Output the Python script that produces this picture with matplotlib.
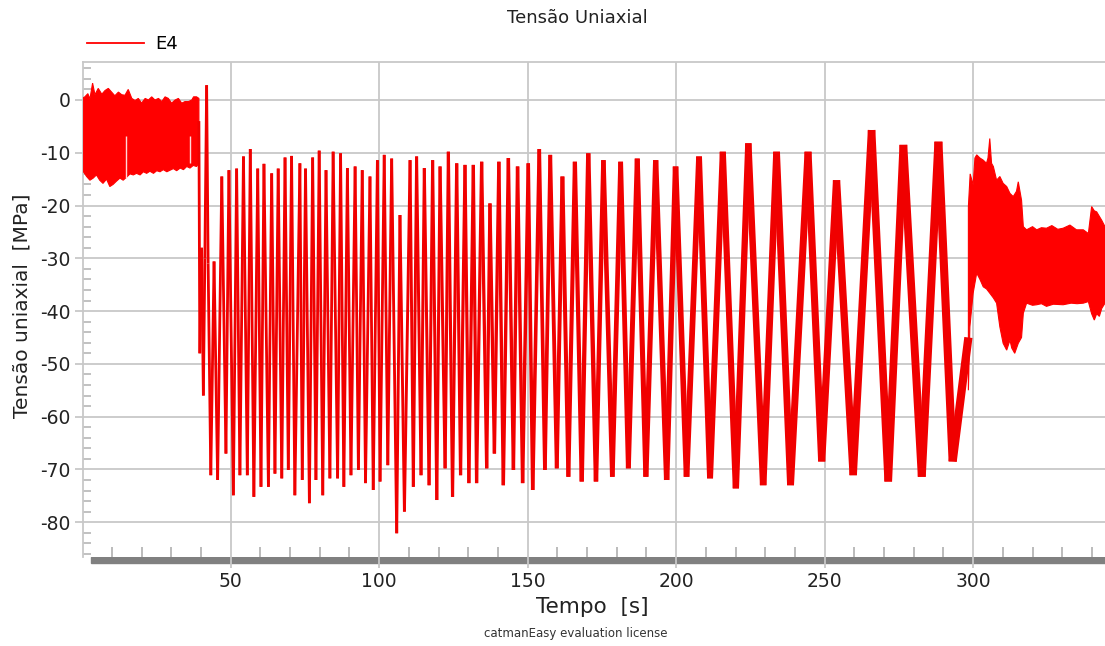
import numpy as np
import matplotlib
matplotlib.use("Agg")
import matplotlib.pyplot as plt
from matplotlib.collections import LineCollection
from matplotlib.lines import Line2D
from matplotlib.patches import Rectangle
from matplotlib.ticker import MultipleLocator

# ---- data -------------------------------------------------------------
# quiet start (noise band), upper and lower edge
band1_top_t = [0.3, 0.9, 1.9, 2.6, 3.5, 4.3, 5.4, 6.6, 7.7, 8.8, 9.9, 11.0, 12.2,
               13.3, 14.4, 15.5, 16.7, 17.8, 18.9, 20.0, 21.2, 22.3, 23.4, 24.5,
               25.7, 26.8, 27.9, 29.0, 30.1, 31.3, 32.4, 33.5, 34.6, 35.8, 36.9,
               37.5, 38.5, 39.3]
band1_top = [0.4, 0.6, 1.2, 0.2, 3.2, 1.0, 2.2, 1.1, 1.8, 2.2, 1.5, 0.8, 1.5,
             1.0, 0.9, 2.0, 0.3, -0.1, 0.3, -0.6, 0.3, 0.0, 0.6, 0.0,
             0.3, -0.3, 0.6, 0.3, -0.6, 0.0, 0.3, -0.6, -0.3, -0.3, 0.0,
             0.6, 0.6, 0.3]
band1_bot_t = [0.3, 1.5, 2.6, 3.7, 4.8, 5.9, 7.0, 8.2, 9.3, 10.4, 11.5, 12.7,
               13.8, 15.0, 16.1, 17.2, 18.3, 19.5, 20.6, 21.7, 22.8, 24.0, 25.1,
               26.2, 27.3, 28.5, 29.6, 30.7, 31.8, 33.0, 34.1, 35.2, 36.3, 37.4,
               38.5, 39.3]
band1_bot = [-13.5, -14.5, -15.2, -14.8, -14.2, -15.2, -15.8, -15.0, -16.4, -16.0,
             -15.4, -14.8, -15.2, -14.6, -14.0, -14.2, -13.9, -14.2, -13.6, -13.9,
             -13.5, -13.9, -13.4, -13.6, -13.2, -13.6, -13.3, -13.0, -13.4, -12.9,
             -13.2, -12.6, -12.9, -12.4, -12.6, -12.0]

# dropouts visible inside the first band
gap_t = [14.7, 36.3]
gap_hi = [-6.9, -6.9]
gap_lo = [-14.8, -12.0]

# oscillating part: successive peaks and troughs
osc_t = [39.3, 39.6, 40.2, 40.8, 41.3, 41.9, 42.4, 43.3, 44.4, 45.6, 47.0, 48.4,
         49.4, 50.9, 52.0, 53.1, 54.3, 55.6, 56.6, 57.8, 59.1, 60.2, 61.2, 62.7,
         63.8, 64.9, 66.0, 67.2, 68.3, 69.4, 70.5, 71.6, 73.3, 74.1, 75.2, 76.5,
         77.6, 78.7, 79.8, 81.0, 82.1, 83.4, 84.5, 86.0, 87.0, 88.1, 89.3, 90.5,
         91.9, 93.0, 94.3, 95.4, 96.9, 98.0, 99.4, 100.3, 101.7, 102.9, 104.2,
         105.9, 107.0, 108.5, 110.4, 111.5, 112.6, 114.1, 115.2, 116.8, 118.0,
         119.4, 120.5, 122.2, 123.3, 124.7, 126.1, 127.4, 128.9, 130.2, 131.7,
         132.8, 134.5, 136.2, 137.3, 138.8, 140.3, 141.8, 143.5, 145.2, 146.6,
         148.3, 150.2, 151.7, 153.9, 155.8, 157.6, 159.8, 161.7, 163.7, 165.9,
         168.2, 170.4, 173.0, 175.5, 178.5, 181.3, 183.9, 186.9, 189.8, 193.1,
         196.8, 199.8, 203.5, 207.7, 211.4, 215.7, 220.1, 224.3, 229.3, 233.8,
         238.5, 244.4, 249.0, 254.0, 259.6, 265.8, 271.4, 276.5, 282.7, 288.3,
         293.1, 298.4]
osc_v = [-4.0, -48.0, -28.0, -56.0, -30.0, 2.8, -31.0, -71.1, -30.6, -72.0, -14.5, -67.0,
         -13.3, -74.9, -13.0, -71.1, -10.7, -71.1, -9.3, -75.2, -13.0, -73.3, -12.1, -73.3,
         -13.9, -70.8, -13.0, -71.7, -10.9, -70.1, -10.6, -74.9, -12.0, -72.0, -13.0, -76.4,
         -10.9, -72.0, -9.6, -74.9, -13.3, -71.7, -9.8, -71.7, -10.1, -73.3, -12.9, -71.1,
         -12.6, -70.1, -13.3, -72.6, -14.5, -73.9, -11.4, -72.3, -10.4, -69.2, -11.1,
         -82.1, -21.8, -78.0, -11.4, -73.3, -10.7, -71.1, -12.9, -73.0, -11.4,
         -75.8, -12.6, -69.8, -9.8, -75.2, -12.0, -71.1, -12.3, -72.6, -12.3,
         -72.6, -11.7, -69.8, -19.6, -67.0, -11.7, -73.0, -11.0, -70.1, -12.6,
         -72.6, -12.0, -73.9, -9.3, -70.1, -10.4, -69.8, -14.5, -71.4, -11.7,
         -72.3, -10.1, -72.3, -11.4, -71.4, -11.7, -69.8, -11.1, -71.4, -11.4,
         -72.0, -12.6, -71.4, -10.7, -71.7, -9.8, -73.6, -8.2, -73.0, -9.8,
         -73.0, -9.8, -68.5, -15.2, -71.1, -5.7, -72.3, -8.5, -71.4, -7.9,
         -68.5, -45.0]

# settling at the end (noise band), upper and lower edge
band2_top_t = [298.4, 299.0, 300.0, 300.6, 301.2, 302.3, 303.4, 304.5, 305.0, 305.6,
               306.2, 306.8, 307.9, 309.0, 310.1, 311.3, 312.4, 313.5, 314.6, 315.2,
               316.3, 316.9, 318.0, 320.0, 321.4, 323.0, 324.7, 326.5, 328.5, 330.3,
               332.6, 334.8, 337.1, 338.8, 339.9, 340.8, 341.6, 343.3, 344.4]
band2_top = [-20.2, -14.0, -16.1, -11.0, -10.4, -11.0, -11.4, -12.0, -11.0, -7.3,
             -12.0, -12.6, -15.2, -14.5, -15.8, -16.4, -17.7, -18.3, -17.3, -15.5,
             -19.0, -24.0, -24.6, -24.0, -24.6, -24.2, -24.3, -23.8, -24.5, -24.3,
             -23.7, -24.6, -24.6, -25.3, -20.2, -21.0, -21.2, -22.8, -24.0]
band2_bot_t = [298.4, 298.9, 300.0, 301.2, 302.3, 303.4, 304.5, 305.6, 306.8, 307.9,
               309.0, 310.1, 311.3, 312.4, 313.0, 314.0, 315.2, 316.3, 316.9, 318.0,
               320.0, 321.4, 323.0, 324.7, 327.0, 330.3, 333.0, 335.0, 337.1, 338.8,
               339.9, 340.8, 341.6, 342.5, 343.3, 344.4]
band2_bot = [-55.0, -43.0, -36.6, -32.8, -34.0, -35.4, -35.8, -36.6, -37.5, -38.5,
             -43.0, -46.1, -47.4, -45.5, -47.0, -48.0, -46.1, -45.0, -40.4, -38.5,
             -38.9, -38.8, -38.6, -39.1, -38.7, -38.8, -38.5, -38.6, -38.5, -38.2,
             -40.5, -41.7, -40.5, -41.0, -39.5, -38.5]

x_ticks = [50, 100, 150, 200, 250, 300]
y_ticks = [0, -10, -20, -30, -40, -50, -60, -70, -80]

# ---- figure -----------------------------------------------------------
plt.rcParams['font.family'] = ['DejaVu Sans']
plt.rcParams['axes.unicode_minus'] = False

W, H = 1105, 646
fig = plt.figure(figsize=(W / 100, H / 100), dpi=100)
ax = fig.add_axes([83 / W, 1 - 557 / H, (W - 83) / W, (557 - 62) / H])

red = '#ff0000'
grid_c = '#c8c8c8'

# noise bands
ax.fill(np.r_[band1_top_t, band1_bot_t[::-1]], np.r_[band1_top, band1_bot[::-1]],
        color=red, lw=0.8, zorder=3)
ax.fill(np.r_[band2_top_t, band2_bot_t[::-1]], np.r_[band2_top, band2_bot[::-1]],
        color=red, lw=0.8, zorder=3)
ax.vlines(gap_t, gap_lo, gap_hi, color='#ffd8d8', lw=1.0, zorder=4)

# oscillation: the trace gets thicker as the cycles slow down (noise on top)
pts = np.column_stack([osc_t, osc_v])
segs = np.stack([pts[:-1], pts[1:]], axis=1)
mid = 0.5 * (pts[:-1, 0] + pts[1:, 0])
widths = np.interp(mid, [40, 100, 150, 200, 240, 300], [2.0, 2.0, 2.5, 4.0, 5.0, 6.0])
lc = LineCollection(segs, colors='#f00000', linewidths=widths, capstyle='butt',
                    zorder=3)
ax.add_collection(lc)

ax.set_xlim(0.27, 344.4)
ax.set_ylim(-86.6, 7.2)
ax.set_xticks(x_ticks)
ax.set_yticks(y_ticks)
ax.xaxis.set_minor_locator(MultipleLocator(10))
ax.yaxis.set_minor_locator(MultipleLocator(2))
ax.grid(which='major', color=grid_c, lw=1.3)
ax.set_axisbelow(True)

for s in ['right', 'bottom']:
    ax.spines[s].set_visible(False)
for s in ['left', 'top']:
    ax.spines[s].set_color(grid_c)
    ax.spines[s].set_linewidth(1.3)

ax.tick_params(axis='x', which='major', direction='out', length=8, width=1.3,
               color=grid_c, pad=3, labelsize=13.5, labelcolor='#222222')
ax.tick_params(axis='x', which='minor', direction='in', length=7, width=1.1,
               color='#a8a8a8')
ax.tick_params(axis='y', which='major', direction='out', length=6, width=1.3,
               color=grid_c, pad=3, labelsize=13.5, labelcolor='#222222')
ax.tick_params(axis='y', which='minor', direction='in', length=6, width=1.1,
               color='#b0b0b0')

# scroll bar under the plot
fig.patches.append(Rectangle((91 / W, 1 - 563 / H), (W - 91) / W, 6 / H,
                             transform=fig.transFigure, color='#808080', zorder=-1))

ax.legend(handles=[Line2D([], [], color=red, lw=1.3)], labels=['E4'],
          loc='lower left', bbox_to_anchor=(0.0, 1.01), frameon=False,
          fontsize=13, handlelength=3.2, handletextpad=0.6,
          borderaxespad=0, borderpad=0.2)

fig.text(577 / W, 1 - 18 / H, 'Tensão Uniaxial', ha='center', va='center',
         fontsize=13, color='#222222')
fig.text(592 / W, 1 - 607 / H, 'Tempo  [s]', ha='center', va='center',
         fontsize=15.5, color='#222222')
fig.text(22 / W, 1 - 306 / H, 'Tensão uniaxial  [MPa]', ha='center', va='center',
         rotation=90, fontsize=14.5, color='#222222')
fig.text(576 / W, 1 - 633 / H, 'catmanEasy evaluation license', ha='center',
         va='center', fontsize=8.5, color='#333333')

fig.savefig('out.png', dpi=100)
